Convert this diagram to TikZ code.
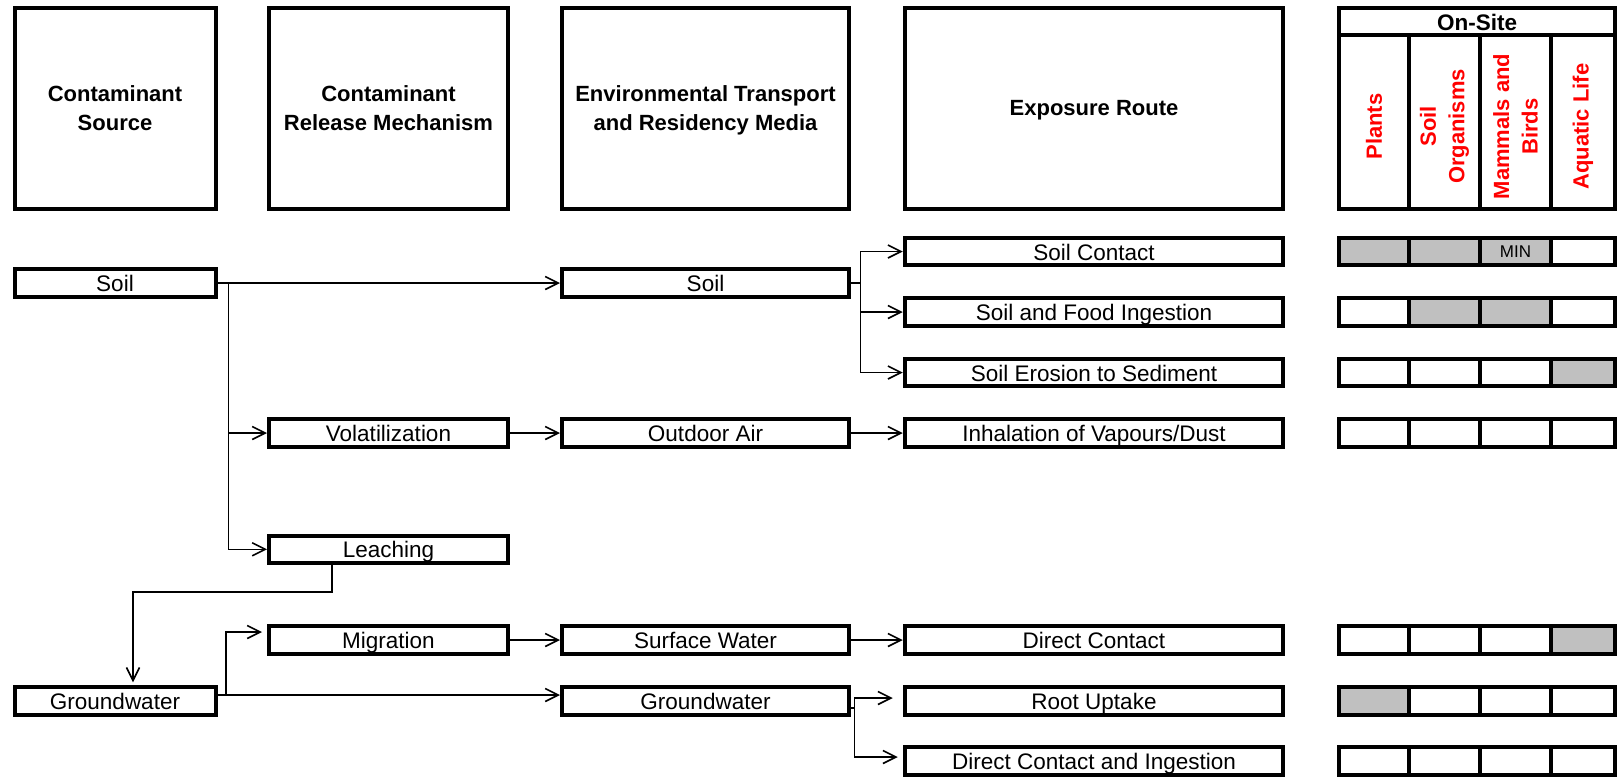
\documentclass[tikz,border=0pt]{standalone}
\usepackage{fontspec}
\setmainfont{Liberation Sans}
\usetikzlibrary{arrows.meta}
\definecolor{cellgray}{HTML}{C0C0C0}
\definecolor{labred}{HTML}{FF0000}
\newcommand\exprow[5]{%
  \fill[#2] (1339,#1-13.75) rectangle (1409,#1+13.75);
  \fill[#3] (1409,#1-13.75) rectangle (1480,#1+13.75);
  \fill[#4] (1480,#1-13.75) rectangle (1551,#1+13.75);
  \fill[#5] (1551,#1-13.75) rectangle (1615,#1+13.75);
  \draw[gridline] (1339,#1-13.75) rectangle (1615,#1+13.75);
  \foreach \xx in {1409,1480,1551} \draw[gridline] (\xx,#1-13.75) -- (\xx,#1+13.75);
}
\begin{document}
\begin{tikzpicture}[x=1pt,y=-1pt,
  rbox/.style={draw, line width=4pt, inner sep=0pt, minimum height=27.5pt,
    text height=19pt, text depth=2pt, font=\fontsize{22.5}{28}\selectfont},
  cA/.style={rbox, minimum width=201pt},
  cB/.style={rbox, minimum width=239pt},
  cC/.style={rbox, minimum width=287pt},
  cD/.style={rbox, minimum width=378.5pt},
  hdr/.style={draw, line width=4pt, inner sep=0pt, minimum height=201.5pt, align=center,
    text depth=0pt, font=\fontsize{22}{28.5}\selectfont\bfseries},
  conn/.style={line width=1.6pt, -{Straight Barb[length=13pt,width=13pt,line width=1.6pt]}},
  wire/.style={line width=1.6pt},
  gridline/.style={line width=4pt},
  vlab/.style={rotate=90, text=labred, align=center, inner sep=0pt,
    font=\fontsize{22}{28.5}\selectfont\bfseries},
]
\useasboundingbox (0,0) rectangle (1617,777);
\fill[white] (0,0) rectangle (1617,777);

% headers
\node[hdr, minimum width=201pt] (h1) at (115,108.25) {Contaminant\\Source};
\node[hdr, minimum width=239pt] (h2) at (388.5,108.25) {Contaminant\\Release Mechanism};
\node[hdr, minimum width=287pt] (h3) at (705.5,108.25) {Environmental Transport\\and Residency Media};
\node[hdr, minimum width=378.5pt] (h4) at (1094,108.25) {Exposure Route};

% receptor table header
\draw[gridline] (1339,7.5) rectangle (1615,209);
\draw[gridline] (1339,35) -- (1615,35);
\foreach \xx in {1409,1480,1551} \draw[gridline] (\xx,35) -- (\xx,209);
\node[inner sep=0pt, font=\fontsize{22.5}{22.5}\selectfont\bfseries] (onsite) at (1477,22) {On-Site};
\node[vlab] (lpl) at (1374,126.5) {Plants};
\node[vlab] (lso) at (1444.5,126.5) {Soil\\Organisms};
\node[vlab] (lmb) at (1515.5,126.5) {Mammals and\\Birds};
\node[vlab] (lal) at (1583,126.5) {Aquatic Life};

% receptor rows
\exprow{251.5}{cellgray}{cellgray}{cellgray}{white}
\node[inner sep=0pt, font=\fontsize{17}{17}\selectfont] (minlab) at (1515.5,251.5) {MIN};
\exprow{312}{white}{cellgray}{cellgray}{white}
\exprow{372.5}{white}{white}{white}{cellgray}
\exprow{433}{white}{white}{white}{white}
\exprow{640}{white}{white}{white}{cellgray}
\exprow{701}{cellgray}{white}{white}{white}
\exprow{761}{white}{white}{white}{white}

% boxes
\node[cA] (srcsoil) at (115,283) {Soil};
\node[cC] (medsoil) at (705.5,283) {Soil};
\node[cD] (soilc) at (1094,251.5) {Soil Contact};
\node[cD] (sfood) at (1094,312) {Soil and Food Ingestion};
\node[cD] (eros) at (1094,372.5) {Soil Erosion to Sediment};
\node[cB] (volat) at (388.5,433) {Volatilization};
\node[cC] (oair) at (705.5,433) {Outdoor Air};
\node[cD] (inhal) at (1094,433) {Inhalation of Vapours/Dust};
\node[cB] (leach) at (388.5,549.3) {Leaching};
\node[cB] (migr) at (388.5,640) {Migration};
\node[cC] (surfw) at (705.5,640) {Surface Water};
\node[cD] (dcont) at (1094,640) {Direct Contact};
\node[cA] (srcgw) at (115,701) {Groundwater};
\node[cC] (medgw) at (705.5,701) {Groundwater};
\node[cD] (root) at (1094,701) {Root Uptake};
\node[cD] (dci) at (1094,761) {Direct Contact and Ingestion};

% connectors: soil
\draw[conn] (srcsoil.east) -- (medsoil.west);
\coordinate (bsoil) at (228.5,283);
\draw[conn] (bsoil) |- (volat.west);
\draw[conn] (bsoil) |- (leach.west);
\draw[conn] (volat.east) -- (oair.west);
\draw[conn] (oair.east) -- (inhal.west);
\coordinate (bmed) at (860.5,283);
\draw[wire] (medsoil.east) -- (bmed);
\draw[conn] (bmed) |- (soilc.west);
\draw[conn] (bmed) |- (sfood.west);
\draw[conn] (bmed) |- (eros.west);

% leaching to groundwater
\coordinate (lbend) at (332,592);
\draw[conn] (leach.south -| lbend) -- (lbend) -| ([xshift=18pt,yshift=3pt]srcgw.north);

% groundwater
\draw[conn] ([yshift=6pt]srcgw.east) -- ([yshift=6pt]medgw.west);
\coordinate (bgw) at (225.7,695);
\draw[conn] (bgw) |- ([xshift=-5pt,yshift=8pt]migr.west);
\draw[conn] (migr.east) -- (surfw.west);
\draw[conn] (surfw.east) -- (dcont.west);
\coordinate (bmgw) at (854.3,708);
\draw[wire] ([yshift=-7pt]medgw.east) -- (bmgw);
\draw[conn] (bmgw) |- ([xshift=-10pt,yshift=3pt]root.west);
\draw[conn] (bmgw) |- ([xshift=-5pt,yshift=4pt]dci.west);
\end{tikzpicture}
\end{document}
